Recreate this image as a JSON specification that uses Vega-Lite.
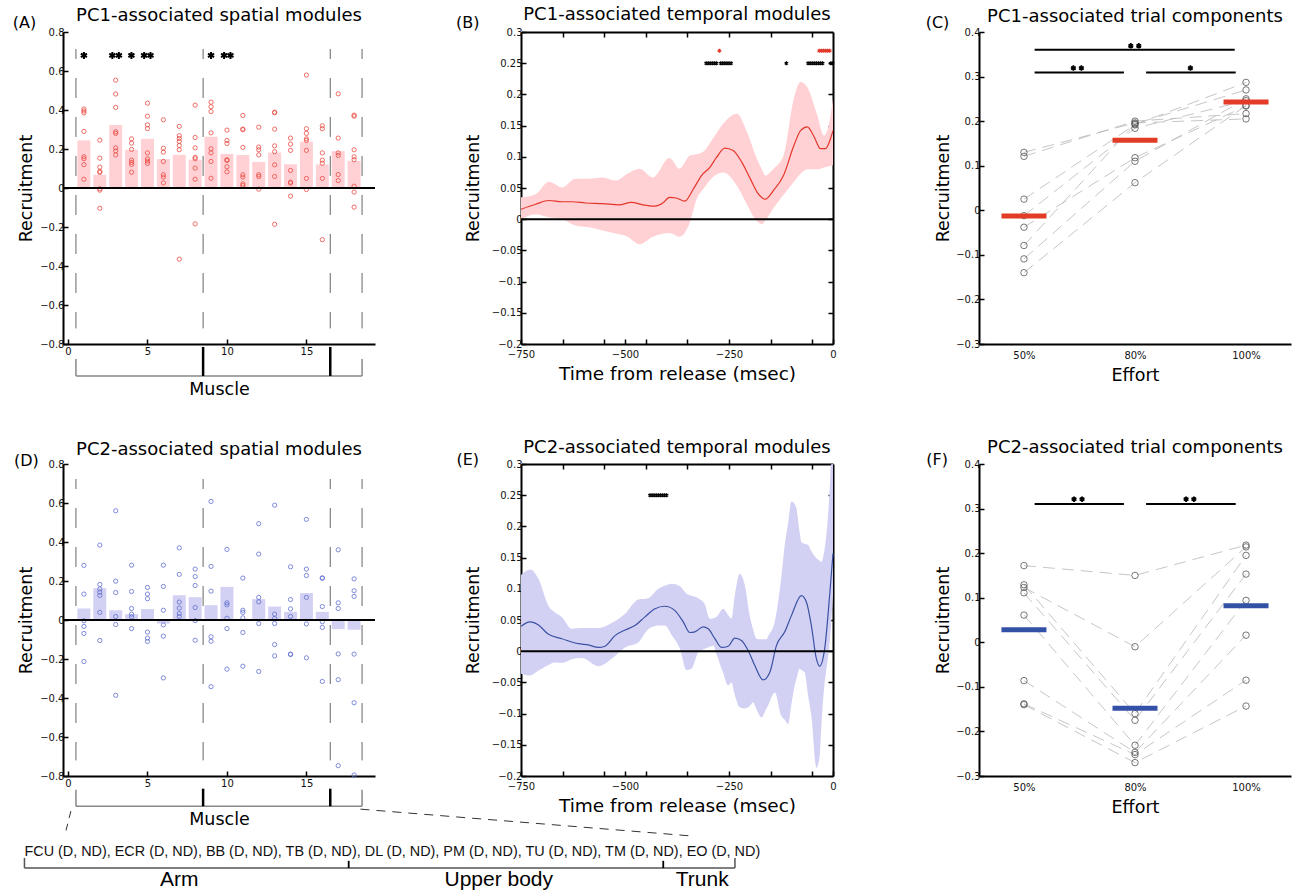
{
"$schema": "https://vega.github.io/schema/vega-lite/v6.json",
"padding": {"left": 12, "top": 6, "right": 4, "bottom": 0},
"background": "white",
"datasets": {
"div": [{"x":0.5},{"x":8.5},{"x":16.5},{"x":18.5}],
"A_bars": [{"m":1,"v":0.244},{"m":2,"v":0.068},{"m":3,"v":0.323},{"m":4,"v":0.196},{"m":5,"v":0.252},{"m":6,"v":0.148},{"m":7,"v":0.170},{"m":8,"v":0.145},{"m":9,"v":0.263},{"m":10,"v":0.175},{"m":11,"v":0.169},{"m":12,"v":0.134},{"m":13,"v":0.182},{"m":14,"v":0.122},{"m":15,"v":0.237},{"m":16,"v":0.121},{"m":17,"v":0.189},{"m":18,"v":0.139}],
"A_pts": [
{"m":1,"v":0.405},{"m":1,"v":0.395},{"m":1,"v":0.385},{"m":1,"v":0.29},{"m":1,"v":0.16},{"m":1,"v":0.15},{"m":1,"v":0.12},{"m":1,"v":0.045},
{"m":2,"v":0.245},{"m":2,"v":0.153},{"m":2,"v":0.107},{"m":2,"v":0.085},{"m":2,"v":0.08},{"m":2,"v":-0.004},{"m":2,"v":-0.011},{"m":2,"v":-0.104},
{"m":3,"v":0.553},{"m":3,"v":0.482},{"m":3,"v":0.413},{"m":3,"v":0.288},{"m":3,"v":0.28},{"m":3,"v":0.206},{"m":3,"v":0.19},{"m":3,"v":0.17},
{"m":4,"v":0.252},{"m":4,"v":0.23},{"m":4,"v":0.198},{"m":4,"v":0.143},{"m":4,"v":0.131},{"m":4,"v":0.121},{"m":4,"v":0.081},
{"m":5,"v":0.435},{"m":5,"v":0.368},{"m":5,"v":0.324},{"m":5,"v":0.305},{"m":5,"v":0.18},{"m":5,"v":0.15},{"m":5,"v":0.138},{"m":5,"v":0.126},
{"m":6,"v":0.35},{"m":6,"v":0.204},{"m":6,"v":0.184},{"m":6,"v":0.136},{"m":6,"v":0.068},{"m":6,"v":0.056},{"m":6,"v":0.026},
{"m":7,"v":0.316},{"m":7,"v":0.268},{"m":7,"v":0.254},{"m":7,"v":0.239},{"m":7,"v":0.218},{"m":7,"v":0.196},{"m":7,"v":-0.365},
{"m":8,"v":0.425},{"m":8,"v":0.259},{"m":8,"v":0.206},{"m":8,"v":0.157},{"m":8,"v":0.15},{"m":8,"v":0.102},{"m":8,"v":0.045},{"m":8,"v":-0.184},
{"m":9,"v":0.44},{"m":9,"v":0.417},{"m":9,"v":0.392},{"m":9,"v":0.283},{"m":9,"v":0.201},{"m":9,"v":0.18},{"m":9,"v":0.136},{"m":9,"v":0.05},
{"m":10,"v":0.297},{"m":10,"v":0.244},{"m":10,"v":0.228},{"m":10,"v":0.145},{"m":10,"v":0.141},{"m":10,"v":0.109},{"m":10,"v":0.083},
{"m":11,"v":0.372},{"m":11,"v":0.302},{"m":11,"v":0.299},{"m":11,"v":0.208},{"m":11,"v":0.068},{"m":11,"v":0.056},{"m":11,"v":0.021},{"m":11,"v":0.013},
{"m":12,"v":0.312},{"m":12,"v":0.21},{"m":12,"v":0.196},{"m":12,"v":0.17},{"m":12,"v":0.068},{"m":12,"v":0.059},{"m":12,"v":-0.006},
{"m":13,"v":0.389},{"m":13,"v":0.386},{"m":13,"v":0.302},{"m":13,"v":0.216},{"m":13,"v":0.186},{"m":13,"v":0.119},{"m":13,"v":0.059},{"m":13,"v":-0.186},
{"m":14,"v":0.256},{"m":14,"v":0.225},{"m":14,"v":0.193},{"m":14,"v":0.09},{"m":14,"v":0.03},{"m":14,"v":0.025},{"m":14,"v":-0.042},
{"m":15,"v":0.579},{"m":15,"v":0.304},{"m":15,"v":0.28},{"m":15,"v":0.252},{"m":15,"v":0.244},{"m":15,"v":0.193},{"m":15,"v":0.049},{"m":15,"v":-0.008},
{"m":16,"v":0.319},{"m":16,"v":0.304},{"m":16,"v":0.18},{"m":16,"v":0.143},{"m":16,"v":0.127},{"m":16,"v":0.049},{"m":16,"v":-0.265},
{"m":17,"v":0.483},{"m":17,"v":0.256},{"m":17,"v":0.18},{"m":17,"v":0.167},{"m":17,"v":0.069},{"m":17,"v":0.038},
{"m":18,"v":0.374},{"m":18,"v":0.368},{"m":18,"v":0.196},{"m":18,"v":0.16},{"m":18,"v":0.145},{"m":18,"v":0.009},{"m":18,"v":-0.021},{"m":18,"v":-0.098}],
"A_stars": [{"m":1.0},{"m":2.79},{"m":3.2},{"m":3.99},{"m":4.79},{"m":5.19},{"m":9.0},{"m":9.82},{"m":10.22}],
"B_band": [
{"t":-750,"lo":0.0,"hi":0.035},{"t":-715,"lo":0.008,"hi":0.040},{"t":-683,"lo":0.003,"hi":0.060},{"t":-651,"lo":0.0,"hi":0.051},{"t":-619,"lo":-0.010,"hi":0.065},{"t":-586,"lo":-0.013,"hi":0.065},{"t":-554,"lo":-0.018,"hi":0.067},{"t":-522,"lo":-0.023,"hi":0.062},{"t":-494,"lo":-0.028,"hi":0.073},{"t":-465,"lo":-0.040,"hi":0.081},{"t":-433,"lo":-0.028,"hi":0.067},{"t":-393,"lo":-0.022,"hi":0.098},{"t":-369,"lo":-0.028,"hi":0.081},{"t":-344,"lo":-0.005,"hi":0.102},{"t":-328,"lo":0.032,"hi":0.104},{"t":-312,"lo":0.048,"hi":0.108},{"t":-288,"lo":0.068,"hi":0.130},{"t":-264,"lo":0.075,"hi":0.153},{"t":-231,"lo":0.054,"hi":0.169},{"t":-207,"lo":0.024,"hi":0.140},{"t":-183,"lo":-0.003,"hi":0.097},{"t":-171,"lo":-0.008,"hi":0.080},{"t":-163,"lo":-0.002,"hi":0.070},{"t":-143,"lo":0.018,"hi":0.081},{"t":-119,"lo":0.039,"hi":0.102},{"t":-94,"lo":0.060,"hi":0.194},{"t":-78,"lo":0.073,"hi":0.220},{"t":-62,"lo":0.080,"hi":0.212},{"t":-38,"lo":0.080,"hi":0.167},{"t":-22,"lo":0.083,"hi":0.134},{"t":-10,"lo":0.085,"hi":0.151},{"t":0,"lo":0.087,"hi":0.194}],
"B_mean": [{"t":-750,"v":0.016},{"t":-715,"v":0.024},{"t":-683,"v":0.030},{"t":-651,"v":0.028},{"t":-627,"v":0.028},{"t":-594,"v":0.026},{"t":-554,"v":0.025},{"t":-514,"v":0.023},{"t":-485,"v":0.027},{"t":-457,"v":0.023},{"t":-429,"v":0.021},{"t":-409,"v":0.026},{"t":-393,"v":0.035},{"t":-377,"v":0.034},{"t":-356,"v":0.029},{"t":-336,"v":0.048},{"t":-316,"v":0.070},{"t":-296,"v":0.083},{"t":-280,"v":0.099},{"t":-260,"v":0.114},{"t":-240,"v":0.110},{"t":-219,"v":0.091},{"t":-199,"v":0.065},{"t":-179,"v":0.040},{"t":-163,"v":0.032},{"t":-143,"v":0.046},{"t":-119,"v":0.070},{"t":-94,"v":0.118},{"t":-78,"v":0.142},{"t":-62,"v":0.148},{"t":-46,"v":0.133},{"t":-30,"v":0.113},{"t":-18,"v":0.113},{"t":-6,"v":0.129},{"t":0,"v":0.142}],
"B_sig1": [{"t":-305},{"t":-300},{"t":-295},{"t":-290},{"t":-285},{"t":-280},{"t":-270},{"t":-265},{"t":-260},{"t":-255},{"t":-250},{"t":-245},{"t":-112},{"t":-60},{"t":-55},{"t":-50},{"t":-45},{"t":-40},{"t":-35},{"t":-30},{"t":-25},{"t":-5},{"t":-1}],
"B_sig2": [{"t":-273},{"t":-33},{"t":-28},{"t":-23},{"t":-18},{"t":-13},{"t":-8}],
"C_pts": [
{"s":1,"c":1,"v":0.130},{"s":1,"c":2,"v":0.196},{"s":1,"c":3,"v":0.205},
{"s":2,"c":1,"v":0.121},{"s":2,"c":2,"v":0.200},{"s":2,"c":3,"v":0.217},
{"s":3,"c":1,"v":0.025},{"s":3,"c":2,"v":0.192},{"s":3,"c":3,"v":0.287},
{"s":4,"c":1,"v":-0.012},{"s":4,"c":2,"v":0.184},{"s":4,"c":3,"v":0.246},
{"s":5,"c":1,"v":-0.038},{"s":5,"c":2,"v":0.118},{"s":5,"c":3,"v":0.234},
{"s":6,"c":1,"v":-0.079},{"s":6,"c":2,"v":0.194},{"s":6,"c":3,"v":0.270},
{"s":7,"c":1,"v":-0.109},{"s":7,"c":2,"v":0.110},{"s":7,"c":3,"v":0.250},
{"s":8,"c":1,"v":-0.140},{"s":8,"c":2,"v":0.062},{"s":8,"c":3,"v":0.235}],
"C_mean": [{"c":1,"v":-0.013},{"c":2,"v":0.157},{"c":3,"v":0.243}],
"C_sig": [{"from":1.096,"to":2.898,"y":0.360},{"from":1.096,"to":1.90,"y":0.309},{"from":2.10,"to":2.907,"y":0.309}],
"C_stars": [{"c":1.962,"y":0.369},{"c":2.034,"y":0.369},{"c":1.445,"y":0.319},{"c":1.517,"y":0.319},{"c":2.499,"y":0.319}],
"D_bars": [{"m":1,"v":0.059},{"m":2,"v":0.163},{"m":3,"v":0.050},{"m":4,"v":0.030},{"m":5,"v":0.056},{"m":6,"v":-0.018},{"m":7,"v":0.127},{"m":8,"v":0.117},{"m":9,"v":0.076},{"m":10,"v":0.170},{"m":11,"v":0.006},{"m":12,"v":0.107},{"m":13,"v":0.069},{"m":14,"v":0.042},{"m":15,"v":0.138},{"m":16,"v":0.042},{"m":17,"v":-0.047},{"m":18,"v":-0.050}],
"D_pts": [
{"m":1,"v":0.28},{"m":1,"v":0.133},{"m":1,"v":-0.004},{"m":1,"v":-0.033},{"m":1,"v":-0.069},{"m":1,"v":-0.213},
{"m":2,"v":0.384},{"m":2,"v":0.182},{"m":2,"v":0.159},{"m":2,"v":0.143},{"m":2,"v":0.126},{"m":2,"v":0.039},{"m":2,"v":-0.105},
{"m":3,"v":0.56},{"m":3,"v":0.199},{"m":3,"v":0.141},{"m":3,"v":0.018},{"m":3,"v":-0.023},{"m":3,"v":-0.386},
{"m":4,"v":0.281},{"m":4,"v":0.146},{"m":4,"v":0.059},{"m":4,"v":0.03},{"m":4,"v":0.016},{"m":4,"v":-0.044},
{"m":5,"v":0.167},{"m":5,"v":0.133},{"m":5,"v":0.109},{"m":5,"v":-0.062},{"m":5,"v":-0.093},{"m":5,"v":-0.11},
{"m":6,"v":0.281},{"m":6,"v":0.172},{"m":6,"v":0.05},{"m":6,"v":-0.025},{"m":6,"v":-0.083},{"m":6,"v":-0.297},
{"m":7,"v":0.37},{"m":7,"v":0.234},{"m":7,"v":0.092},{"m":7,"v":0.061},{"m":7,"v":0.033},{"m":7,"v":0.018},
{"m":8,"v":0.261},{"m":8,"v":0.223},{"m":8,"v":0.177},{"m":8,"v":0.064},{"m":8,"v":-0.003},{"m":8,"v":-0.104},
{"m":9,"v":0.608},{"m":9,"v":0.275},{"m":9,"v":0.148},{"m":9,"v":-0.086},{"m":9,"v":-0.109},{"m":9,"v":-0.342},
{"m":10,"v":0.362},{"m":10,"v":0.088},{"m":10,"v":0.078},{"m":10,"v":0.009},{"m":10,"v":-0.044},{"m":10,"v":-0.252},
{"m":11,"v":0.215},{"m":11,"v":0.05},{"m":11,"v":0.039},{"m":11,"v":0.011},{"m":11,"v":-0.064},{"m":11,"v":-0.237},
{"m":12,"v":0.494},{"m":12,"v":0.338},{"m":12,"v":0.116},{"m":12,"v":0.093},{"m":12,"v":-0.018},{"m":12,"v":-0.264},
{"m":13,"v":0.589},{"m":13,"v":0.03},{"m":13,"v":0.008},{"m":13,"v":-0.018},{"m":13,"v":-0.126},{"m":13,"v":-0.184},
{"m":14,"v":0.273},{"m":14,"v":0.105},{"m":14,"v":0.057},{"m":14,"v":0.018},{"m":14,"v":-0.177},{"m":14,"v":-0.175},
{"m":15,"v":0.516},{"m":15,"v":0.261},{"m":15,"v":0.228},{"m":15,"v":0.116},{"m":15,"v":-0.02},{"m":15,"v":-0.194},
{"m":16,"v":0.216},{"m":16,"v":0.214},{"m":16,"v":0.069},{"m":16,"v":-0.009},{"m":16,"v":-0.038},{"m":16,"v":-0.315},
{"m":17,"v":0.36},{"m":17,"v":0.088},{"m":17,"v":0.059},{"m":17,"v":-0.174},{"m":17,"v":-0.306},{"m":17,"v":-0.747},
{"m":18,"v":0.211},{"m":18,"v":0.15},{"m":18,"v":0.121},{"m":18,"v":-0.175},{"m":18,"v":-0.424},{"m":18,"v":-0.795}],
"E_band": [
{"t":-750,"lo":-0.036,"hi":0.122},{"t":-728,"lo":-0.039,"hi":0.131},{"t":-708,"lo":-0.031,"hi":0.116},{"t":-684,"lo":-0.022,"hi":0.073},{"t":-668,"lo":-0.018,"hi":0.062},{"t":-652,"lo":-0.019,"hi":0.055},{"t":-628,"lo":-0.013,"hi":0.036},{"t":-604,"lo":-0.011,"hi":0.037},{"t":-564,"lo":-0.024,"hi":0.037},{"t":-532,"lo":-0.012,"hi":0.045},{"t":-500,"lo":0.006,"hi":0.060},{"t":-468,"lo":0.014,"hi":0.083},{"t":-444,"lo":0.035,"hi":0.085},{"t":-420,"lo":0.041,"hi":0.100},{"t":-404,"lo":0.041,"hi":0.105},{"t":-388,"lo":0.026,"hi":0.108},{"t":-368,"lo":0.004,"hi":0.104},{"t":-352,"lo":-0.030,"hi":0.092},{"t":-340,"lo":-0.028,"hi":0.089},{"t":-324,"lo":-0.002,"hi":0.085},{"t":-308,"lo":0.004,"hi":0.075},{"t":-296,"lo":0.007,"hi":0.052},{"t":-288,"lo":0.009,"hi":0.053},{"t":-280,"lo":-0.005,"hi":0.055},{"t":-264,"lo":-0.035,"hi":0.068},{"t":-252,"lo":-0.055,"hi":0.058},{"t":-244,"lo":-0.050,"hi":0.052},{"t":-236,"lo":-0.070,"hi":0.090},{"t":-224,"lo":-0.090,"hi":0.124},{"t":-212,"lo":-0.092,"hi":0.106},{"t":-200,"lo":-0.088,"hi":0.057},{"t":-192,"lo":-0.082,"hi":0.035},{"t":-184,"lo":-0.093,"hi":0.020},{"t":-172,"lo":-0.106,"hi":0.019},{"t":-160,"lo":-0.092,"hi":0.019},{"t":-156,"lo":-0.087,"hi":0.024},{"t":-140,"lo":-0.066,"hi":0.047},{"t":-124,"lo":-0.104,"hi":0.120},{"t":-116,"lo":-0.110,"hi":0.170},{"t":-108,"lo":-0.117,"hi":0.205},{"t":-100,"lo":-0.085,"hi":0.240},{"t":-92,"lo":-0.055,"hi":0.236},{"t":-88,"lo":-0.045,"hi":0.229},{"t":-80,"lo":-0.028,"hi":0.190},{"t":-76,"lo":-0.030,"hi":0.175},{"t":-68,"lo":-0.034,"hi":0.172},{"t":-60,"lo":-0.070,"hi":0.170},{"t":-52,"lo":-0.104,"hi":0.160},{"t":-40,"lo":-0.187,"hi":0.149},{"t":-32,"lo":-0.168,"hi":0.145},{"t":-28,"lo":-0.120,"hi":0.143},{"t":-20,"lo":-0.050,"hi":0.165},{"t":-16,"lo":-0.030,"hi":0.186},{"t":-8,"lo":0.014,"hi":0.260},{"t":-5,"lo":0.040,"hi":0.299},{"t":0,"lo":0.090,"hi":0.300}],
"E_mean": [{"t":-750,"v":0.040},{"t":-728,"v":0.047},{"t":-708,"v":0.042},{"t":-684,"v":0.027},{"t":-652,"v":0.020},{"t":-612,"v":0.012},{"t":-588,"v":0.010},{"t":-564,"v":0.006},{"t":-548,"v":0.008},{"t":-524,"v":0.025},{"t":-500,"v":0.034},{"t":-476,"v":0.041},{"t":-452,"v":0.055},{"t":-428,"v":0.068},{"t":-404,"v":0.072},{"t":-380,"v":0.065},{"t":-360,"v":0.047},{"t":-344,"v":0.030},{"t":-332,"v":0.031},{"t":-312,"v":0.039},{"t":-300,"v":0.036},{"t":-284,"v":0.020},{"t":-268,"v":0.006},{"t":-252,"v":0.008},{"t":-236,"v":0.021},{"t":-220,"v":0.017},{"t":-204,"v":0.001},{"t":-188,"v":-0.023},{"t":-168,"v":-0.046},{"t":-152,"v":-0.034},{"t":-136,"v":0.009},{"t":-116,"v":0.031},{"t":-100,"v":0.057},{"t":-76,"v":0.089},{"t":-64,"v":0.079},{"t":-52,"v":0.041},{"t":-40,"v":-0.012},{"t":-32,"v":-0.024},{"t":-20,"v":0.004},{"t":-8,"v":0.090},{"t":0,"v":0.157}],
"E_sig": [{"t":-440},{"t":-435},{"t":-430},{"t":-425},{"t":-420},{"t":-415},{"t":-410},{"t":-405},{"t":-400}],
"F_pts": [
{"s":1,"c":1,"v":0.172},{"s":1,"c":2,"v":0.150},{"s":1,"c":3,"v":0.218},
{"s":2,"c":1,"v":0.123},{"s":2,"c":2,"v":-0.010},{"s":2,"c":3,"v":0.214},
{"s":3,"c":1,"v":0.129},{"s":3,"c":2,"v":-0.160},{"s":3,"c":3,"v":0.195},
{"s":4,"c":1,"v":0.111},{"s":4,"c":2,"v":-0.175},{"s":4,"c":3,"v":0.153},
{"s":5,"c":1,"v":0.061},{"s":5,"c":2,"v":-0.231},{"s":5,"c":3,"v":0.094},
{"s":6,"c":1,"v":-0.086},{"s":6,"c":2,"v":-0.247},{"s":6,"c":3,"v":0.016},
{"s":7,"c":1,"v":-0.138},{"s":7,"c":2,"v":-0.252},{"s":7,"c":3,"v":-0.085},
{"s":8,"c":1,"v":-0.140},{"s":8,"c":2,"v":-0.270},{"s":8,"c":3,"v":-0.143}],
"F_mean": [{"c":1,"v":0.028},{"c":2,"v":-0.148},{"c":3,"v":0.082}],
"F_sig": [{"from":1.096,"to":1.90,"y":0.310},{"from":2.10,"to":2.907,"y":0.310}],
"F_stars": [{"c":1.451,"y":0.321},{"c":1.523,"y":0.321},{"c":2.46,"y":0.321},{"c":2.53,"y":0.321}]
},
"concat": [
{"width": 312, "height": 312,
 "layer": [
  {"data": {"name": "A_bars"}, "mark": {"type": "bar", "orient": "vertical", "width": 13, "color": "#ffd1d5"},
   "encoding": {"x": {"field": "m", "type": "quantitative", "scale": {"domain": [0, 19], "nice": false}, "axis": {"values": [0, 5, 10, 15], "tickCount": 50, "format": "d", "labelPadding": 7, "title": "Muscle", "titlePadding": 24}},
                "y": {"field": "v", "type": "quantitative", "scale": {"domain": [-0.8, 0.8], "nice": false}, "axis": {"values": [-0.8,-0.6,-0.4,-0.2,0,0.2,0.4,0.6,0.8], "tickCount": 50, "format": "~g", "title": "Recruitment", "titlePadding": 4}}}},
  {"data": {"name": "A_pts"}, "mark": {"type": "point", "filled": false, "color": "#ea4b42", "size": 18, "strokeWidth": 0.8},
   "encoding": {"x": {"field": "m", "type": "quantitative"}, "y": {"field": "v", "type": "quantitative"}}},
  {"data": {"values": [{}]}, "mark": {"type": "rule", "color": "black", "strokeWidth": 2}, "encoding": {"y": {"datum": 0}}},
  {"data": {"name": "div"}, "mark": {"type": "rule", "color": "#666", "strokeWidth": 1, "strokeDash": [20, 19], "strokeDashOffset": 10},
   "encoding": {"x": {"field": "x", "type": "quantitative"}, "y": {"datum": 0.713}, "y2": {"datum": -0.72}}},
  {"data": {"name": "A_stars"}, "mark": {"type": "point", "shape": "M0,-1L0,1M-0.87,-0.5L0.87,0.5M-0.87,0.5L0.87,-0.5", "filled": false, "color": "black", "size": 49, "strokeWidth": 2},
   "encoding": {"x": {"field": "m", "type": "quantitative"}, "y": {"datum": 0.68}}},
  {"data": {"values": [{}]}, "mark": {"type": "rule", "color": "#888", "strokeWidth": 1.5}, "encoding": {"x": {"datum": 0.5}, "x2": {"datum": 18.5}, "y": {"datum": -0.964}}},
  {"data": {"name": "div"}, "transform": [{"filter": "datum.x == 0.5 || datum.x == 18.5"}], "mark": {"type": "rule", "color": "#888", "strokeWidth": 1.5},
   "encoding": {"x": {"field": "x", "type": "quantitative"}, "y": {"datum": -0.877}, "y2": {"datum": -0.964}}},
  {"data": {"name": "div"}, "transform": [{"filter": "datum.x == 8.5 || datum.x == 16.5"}], "mark": {"type": "rule", "color": "black", "strokeWidth": 2.5},
   "encoding": {"x": {"field": "x", "type": "quantitative"}, "y": {"datum": -0.815}, "y2": {"datum": -0.964}}},
  {"data": {"values": [{}]}, "mark": {"type": "text", "text": "PC1-associated spatial modules", "fontSize": 18, "font": "DejaVu Sans", "baseline": "middle"}, "encoding": {"x": {"datum": 9.5}, "y": {"datum": 0.882}}},
  {"data": {"values": [{}]}, "mark": {"type": "text", "text": "(A)", "fontSize": 16, "font": "DejaVu Sans", "baseline": "middle"}, "encoding": {"x": {"datum": -2.74}, "y": {"datum": 0.846}}}
 ]},
{"width": 312, "height": 312,
 "layer": [
  {"layer": [
    {"data": {"name": "B_band"}, "mark": {"type": "area", "color": "#ffd0d4", "interpolate": "monotone"},
     "encoding": {"x": {"field": "t", "type": "quantitative", "scale": {"domain": [-750, 0], "nice": false}, "axis": {"values": [-750,-650,-550,-500,-450,-350,-250,-150,-50,0], "tickCount": 50, "labelExpr": "indexof([-750,-500,-250,0], datum.value) >= 0 ? datum.label : ''", "format": "d", "labelPadding": 10, "title": "Time from release (msec)", "titleFontSize": 18.5, "titlePadding": 5}},
                  "y": {"field": "lo", "type": "quantitative", "scale": {"domain": [-0.2, 0.3], "nice": false}, "axis": {"values": [-0.2,-0.15,-0.1,-0.05,0,0.05,0.1,0.15,0.2,0.25,0.3], "tickCount": 50, "format": "~g", "title": "Recruitment", "titlePadding": 9}},
                  "y2": {"field": "hi"}}},
    {"data": {"name": "B_mean"}, "mark": {"type": "line", "color": "#e4372b", "strokeWidth": 1.2, "interpolate": "monotone"},
     "encoding": {"x": {"field": "t", "type": "quantitative"}, "y": {"field": "v", "type": "quantitative"}}},
    {"data": {"values": [{}]}, "mark": {"type": "rule", "color": "black", "strokeWidth": 2}, "encoding": {"y": {"datum": 0}}},
    {"data": {"name": "B_sig1"}, "mark": {"type": "point", "shape": "M0,-1L0,1M-0.87,-0.5L0.87,0.5M-0.87,0.5L0.87,-0.5", "filled": false, "color": "black", "size": 16, "strokeWidth": 1.3},
     "encoding": {"x": {"field": "t", "type": "quantitative"}, "y": {"datum": 0.25}}},
    {"data": {"name": "B_sig2"}, "mark": {"type": "point", "shape": "M0,-1L0,1M-0.87,-0.5L0.87,0.5M-0.87,0.5L0.87,-0.5", "filled": false, "color": "#e4372b", "size": 16, "strokeWidth": 1.3},
     "encoding": {"x": {"field": "t", "type": "quantitative"}, "y": {"datum": 0.27}}},
    {"data": {"values": [{}]}, "mark": {"type": "text", "text": "PC1-associated temporal modules", "fontSize": 18, "font": "DejaVu Sans", "baseline": "middle"}, "encoding": {"x": {"datum": -375}, "y": {"datum": 0.327}}},
    {"data": {"values": [{}]}, "mark": {"type": "text", "text": "(B)", "fontSize": 16, "font": "DejaVu Sans", "baseline": "middle"}, "encoding": {"x": {"datum": -878}, "y": {"datum": 0.3145}}}
  ]},
  {"data": {"name": "B_mean"}, "mark": {"type": "line", "opacity": 0},
   "encoding": {"x": {"field": "t", "type": "quantitative", "axis": {"orient": "top", "labels": false, "title": null, "tickCount": 50, "values": [-650,-550,-450,-350,-250,-150,-50]}},
                "y": {"field": "v", "type": "quantitative", "axis": {"orient": "right", "labels": false, "title": null, "tickCount": 50, "values": [-0.15,-0.1,-0.05,0,0.05,0.1,0.15,0.2,0.25]}}}}
 ],
 "resolve": {"axis": {"x": "independent", "y": "independent"}}},
{"width": 312, "height": 312,
 "layer": [
  {"data": {"name": "C_pts"}, "mark": {"type": "line", "color": "#b8b8b8", "strokeWidth": 0.8, "strokeDash": [12, 7]},
   "encoding": {"x": {"field": "c", "type": "quantitative", "scale": {"domain": [0.595, 3.405], "nice": false}, "axis": {"values": [1, 2, 3], "tickCount": 50, "labelExpr": "datum.value == 1 ? '50%' : datum.value == 2 ? '80%' : '100%'", "ticks": false, "labelPadding": 6, "title": "Effort", "titlePadding": 6}},
                "y": {"field": "v", "type": "quantitative", "scale": {"domain": [-0.3, 0.4], "nice": false}, "axis": {"values": [-0.3,-0.2,-0.1,0,0.1,0.2,0.3,0.4], "tickCount": 50, "format": "~g", "title": "Recruitment", "titlePadding": 3}},
                "detail": {"field": "s", "type": "nominal"}}},
  {"data": {"name": "C_pts"}, "mark": {"type": "point", "filled": false, "color": "#555", "size": 42, "strokeWidth": 0.8},
   "encoding": {"x": {"field": "c", "type": "quantitative"}, "y": {"field": "v", "type": "quantitative"}}},
  {"data": {"name": "C_mean"}, "mark": {"type": "tick", "orient": "horizontal", "color": "#e23b26", "size": 45, "thickness": 5},
   "encoding": {"x": {"field": "c", "type": "quantitative"}, "y": {"field": "v", "type": "quantitative"}}},
  {"data": {"name": "C_sig"}, "mark": {"type": "rule", "color": "black", "strokeWidth": 2},
   "encoding": {"x": {"field": "from", "type": "quantitative"}, "x2": {"field": "to"}, "y": {"field": "y", "type": "quantitative"}}},
  {"data": {"name": "C_stars"}, "mark": {"type": "point", "shape": "M0,-1L0,1M-0.87,-0.5L0.87,0.5M-0.87,0.5L0.87,-0.5", "filled": false, "color": "black", "size": 30, "strokeWidth": 1.8},
   "encoding": {"x": {"field": "c", "type": "quantitative"}, "y": {"field": "y", "type": "quantitative"}}},
  {"data": {"values": [{}]}, "mark": {"type": "text", "text": "PC1-associated trial components", "fontSize": 18, "font": "DejaVu Sans", "baseline": "middle"}, "encoding": {"x": {"datum": 2.0}, "y": {"datum": 0.434}}},
  {"data": {"values": [{}]}, "mark": {"type": "text", "text": "(C)", "fontSize": 16, "font": "DejaVu Sans", "baseline": "middle"}, "encoding": {"x": {"datum": 0.221}, "y": {"datum": 0.42}}}
 ]},
{"width": 312, "height": 312,
 "layer": [
  {"data": {"name": "D_bars"}, "mark": {"type": "bar", "orient": "vertical", "width": 13, "color": "#d3d1f3"},
   "encoding": {"x": {"field": "m", "type": "quantitative", "scale": {"domain": [0, 19], "nice": false}, "axis": {"values": [0, 5, 10, 15], "tickCount": 50, "format": "d", "labelPadding": 7, "title": "Muscle", "titlePadding": 22}},
                "y": {"field": "v", "type": "quantitative", "scale": {"domain": [-0.8, 0.8], "nice": false}, "axis": {"values": [-0.8,-0.6,-0.4,-0.2,0,0.2,0.4,0.6,0.8], "tickCount": 50, "format": "~g", "title": "Recruitment", "titlePadding": 4}}}},
  {"data": {"name": "D_pts"}, "mark": {"type": "point", "filled": false, "color": "#5f6fcf", "size": 18, "strokeWidth": 0.8},
   "encoding": {"x": {"field": "m", "type": "quantitative"}, "y": {"field": "v", "type": "quantitative"}}},
  {"data": {"values": [{}]}, "mark": {"type": "rule", "color": "black", "strokeWidth": 2}, "encoding": {"y": {"datum": 0}}},
  {"data": {"name": "div"}, "mark": {"type": "rule", "color": "#666", "strokeWidth": 1, "strokeDash": [20, 19], "strokeDashOffset": 10},
   "encoding": {"x": {"field": "x", "type": "quantitative"}, "y": {"datum": 0.723}, "y2": {"datum": -0.72}}},
  {"data": {"values": [{}]}, "mark": {"type": "rule", "color": "#888", "strokeWidth": 1.5}, "encoding": {"x": {"datum": 0.5}, "x2": {"datum": 18.5}, "y": {"datum": -0.955}}},
  {"data": {"name": "div"}, "transform": [{"filter": "datum.x == 0.5 || datum.x == 18.5"}], "mark": {"type": "rule", "color": "#888", "strokeWidth": 1.5},
   "encoding": {"x": {"field": "x", "type": "quantitative"}, "y": {"datum": -0.87}, "y2": {"datum": -0.955}}},
  {"data": {"name": "div"}, "transform": [{"filter": "datum.x == 8.5 || datum.x == 16.5"}], "mark": {"type": "rule", "color": "black", "strokeWidth": 2.5},
   "encoding": {"x": {"field": "x", "type": "quantitative"}, "y": {"datum": -0.865}, "y2": {"datum": -0.955}}},
  {"data": {"values": [{}]}, "mark": {"type": "rule", "color": "#333", "strokeWidth": 1, "strokeDash": [7, 6]}, "encoding": {"x": {"datum": 0.18}, "y": {"datum": -0.98}, "x2": {"datum": -0.18}, "y2": {"datum": -1.097}}},
  {"data": {"values": [{}]}, "mark": {"type": "rule", "color": "#333", "strokeWidth": 1, "strokeDash": [9, 7]}, "encoding": {"x": {"datum": 18.4}, "y": {"datum": -0.97}, "x2": {"datum": 39.3}, "y2": {"datum": -1.108}}},
  {"data": {"values": [{}]}, "mark": {"type": "text", "text": "FCU (D, ND), ECR (D, ND), BB (D, ND), TB (D, ND), DL (D, ND), PM (D, ND), TU (D, ND), TM (D, ND), EO (D, ND)", "fontSize": 14.4, "font": "Liberation Sans", "align": "left", "baseline": "middle", "color": "#111"}, "encoding": {"x": {"datum": -2.74}, "y": {"datum": -1.19}}},
  {"data": {"values": [{}]}, "mark": {"type": "rule", "color": "#555", "strokeWidth": 1.5}, "encoding": {"x": {"datum": -2.74}, "x2": {"datum": 41.96}, "y": {"datum": -1.272}}},
  {"data": {"values": [{}]}, "mark": {"type": "rule", "color": "#555", "strokeWidth": 1.5}, "encoding": {"x": {"datum": -2.74}, "y": {"datum": -1.22}, "y2": {"datum": -1.272}}},
  {"data": {"values": [{}]}, "mark": {"type": "rule", "color": "#555", "strokeWidth": 1.5}, "encoding": {"x": {"datum": 41.96}, "y": {"datum": -1.22}, "y2": {"datum": -1.272}}},
  {"data": {"values": [{}]}, "mark": {"type": "rule", "color": "black", "strokeWidth": 1.8}, "encoding": {"x": {"datum": 17.66}, "y": {"datum": -1.235}, "y2": {"datum": -1.272}}},
  {"data": {"values": [{}]}, "mark": {"type": "rule", "color": "black", "strokeWidth": 1.8}, "encoding": {"x": {"datum": 37.45}, "y": {"datum": -1.235}, "y2": {"datum": -1.272}}},
  {"data": {"values": [{}]}, "mark": {"type": "text", "text": "Arm", "fontSize": 21, "font": "Liberation Sans", "baseline": "middle"}, "encoding": {"x": {"datum": 7.0}, "y": {"datum": -1.335}}},
  {"data": {"values": [{}]}, "mark": {"type": "text", "text": "Upper body", "fontSize": 21, "font": "Liberation Sans", "baseline": "middle"}, "encoding": {"x": {"datum": 27.1}, "y": {"datum": -1.335}}},
  {"data": {"values": [{}]}, "mark": {"type": "text", "text": "Trunk", "fontSize": 21, "font": "Liberation Sans", "baseline": "middle"}, "encoding": {"x": {"datum": 39.9}, "y": {"datum": -1.335}}},
  {"data": {"values": [{}]}, "mark": {"type": "text", "text": "PC2-associated spatial modules", "fontSize": 18, "font": "DejaVu Sans", "baseline": "middle"}, "encoding": {"x": {"datum": 9.5}, "y": {"datum": 0.874}}},
  {"data": {"values": [{}]}, "mark": {"type": "text", "text": "(D)", "fontSize": 16, "font": "DejaVu Sans", "baseline": "middle"}, "encoding": {"x": {"datum": -2.62}, "y": {"datum": 0.815}}}
 ]},
{"width": 312, "height": 312,
 "layer": [
  {"layer": [
    {"data": {"name": "E_band"}, "mark": {"type": "area", "color": "#d3d1f3", "interpolate": "monotone"},
     "encoding": {"x": {"field": "t", "type": "quantitative", "scale": {"domain": [-750, 0], "nice": false}, "axis": {"values": [-750,-650,-550,-500,-450,-350,-250,-150,-50,0], "tickCount": 50, "labelExpr": "indexof([-750,-500,-250,0], datum.value) >= 0 ? datum.label : ''", "format": "d", "labelPadding": 10, "title": "Time from release (msec)", "titleFontSize": 18.5, "titlePadding": 5}},
                  "y": {"field": "lo", "type": "quantitative", "scale": {"domain": [-0.2, 0.3], "nice": false}, "axis": {"values": [-0.2,-0.15,-0.1,-0.05,0,0.05,0.1,0.15,0.2,0.25,0.3], "tickCount": 50, "format": "~g", "title": "Recruitment", "titlePadding": 9}},
                  "y2": {"field": "hi"}}},
    {"data": {"name": "E_mean"}, "mark": {"type": "line", "color": "#3a51a3", "strokeWidth": 1.2, "interpolate": "monotone"},
     "encoding": {"x": {"field": "t", "type": "quantitative"}, "y": {"field": "v", "type": "quantitative"}}},
    {"data": {"values": [{}]}, "mark": {"type": "rule", "color": "black", "strokeWidth": 2}, "encoding": {"y": {"datum": 0}}},
    {"data": {"name": "E_sig"}, "mark": {"type": "point", "shape": "M0,-1L0,1M-0.87,-0.5L0.87,0.5M-0.87,0.5L0.87,-0.5", "filled": false, "color": "black", "size": 16, "strokeWidth": 1.3},
     "encoding": {"x": {"field": "t", "type": "quantitative"}, "y": {"datum": 0.25}}},
    {"data": {"values": [{}]}, "mark": {"type": "text", "text": "PC2-associated temporal modules", "fontSize": 18, "font": "DejaVu Sans", "baseline": "middle"}, "encoding": {"x": {"datum": -375}, "y": {"datum": 0.326}}},
    {"data": {"values": [{}]}, "mark": {"type": "text", "text": "(E)", "fontSize": 16, "font": "DejaVu Sans", "baseline": "middle"}, "encoding": {"x": {"datum": -878}, "y": {"datum": 0.3065}}}
  ]},
  {"data": {"name": "E_mean"}, "mark": {"type": "line", "opacity": 0},
   "encoding": {"x": {"field": "t", "type": "quantitative", "axis": {"orient": "top", "labels": false, "title": null, "tickCount": 50, "values": [-650,-550,-450,-350,-250,-150,-50]}},
                "y": {"field": "v", "type": "quantitative", "axis": {"orient": "right", "labels": false, "title": null, "tickCount": 50, "values": [-0.15,-0.1,-0.05,0,0.05,0.1,0.15,0.2,0.25]}}}}
 ],
 "resolve": {"axis": {"x": "independent", "y": "independent"}}},
{"width": 312, "height": 312,
 "layer": [
  {"data": {"name": "F_pts"}, "mark": {"type": "line", "color": "#b8b8b8", "strokeWidth": 0.8, "strokeDash": [12, 7]},
   "encoding": {"x": {"field": "c", "type": "quantitative", "scale": {"domain": [0.595, 3.405], "nice": false}, "axis": {"values": [1, 2, 3], "tickCount": 50, "labelExpr": "datum.value == 1 ? '50%' : datum.value == 2 ? '80%' : '100%'", "ticks": false, "labelPadding": 6, "title": "Effort", "titlePadding": 6}},
                "y": {"field": "v", "type": "quantitative", "scale": {"domain": [-0.3, 0.4], "nice": false}, "axis": {"values": [-0.3,-0.2,-0.1,0,0.1,0.2,0.3,0.4], "tickCount": 50, "format": "~g", "title": "Recruitment", "titlePadding": 3}},
                "detail": {"field": "s", "type": "nominal"}}},
  {"data": {"name": "F_pts"}, "mark": {"type": "point", "filled": false, "color": "#555", "size": 42, "strokeWidth": 0.8},
   "encoding": {"x": {"field": "c", "type": "quantitative"}, "y": {"field": "v", "type": "quantitative"}}},
  {"data": {"name": "F_mean"}, "mark": {"type": "tick", "orient": "horizontal", "color": "#3451a8", "size": 45, "thickness": 5},
   "encoding": {"x": {"field": "c", "type": "quantitative"}, "y": {"field": "v", "type": "quantitative"}}},
  {"data": {"name": "F_sig"}, "mark": {"type": "rule", "color": "black", "strokeWidth": 2},
   "encoding": {"x": {"field": "from", "type": "quantitative"}, "x2": {"field": "to"}, "y": {"field": "y", "type": "quantitative"}}},
  {"data": {"name": "F_stars"}, "mark": {"type": "point", "shape": "M0,-1L0,1M-0.87,-0.5L0.87,0.5M-0.87,0.5L0.87,-0.5", "filled": false, "color": "black", "size": 30, "strokeWidth": 1.8},
   "encoding": {"x": {"field": "c", "type": "quantitative"}, "y": {"field": "y", "type": "quantitative"}}},
  {"data": {"values": [{}]}, "mark": {"type": "text", "text": "PC2-associated trial components", "fontSize": 18, "font": "DejaVu Sans", "baseline": "middle"}, "encoding": {"x": {"datum": 2.0}, "y": {"datum": 0.435}}},
  {"data": {"values": [{}]}, "mark": {"type": "text", "text": "(F)", "fontSize": 16, "font": "DejaVu Sans", "baseline": "middle"}, "encoding": {"x": {"datum": 0.217}, "y": {"datum": 0.409}}}
 ]}
],
"columns": 3,
"spacing": {"row": 120, "column": 146},
"bounds": "flush",
"config": {
 "view": {"stroke": null},
 "font": "DejaVu Sans",
 "point": {"opacity": 1},
 "tick": {"opacity": 1},
 "axis": {"domainColor": "#000", "domainWidth": 2, "tickColor": "#000", "tickWidth": 1.5, "tickSize": -5, "labelPadding": 4, "labelOverlap": false, "labelFlush": false, "labelFontSize": 10, "labelColor": "#111", "labelFont": "DejaVu Sans", "titleFont": "DejaVu Sans", "titleFontSize": 17.5, "titleFontWeight": "normal", "titleColor": "#000", "grid": false}
}
}
